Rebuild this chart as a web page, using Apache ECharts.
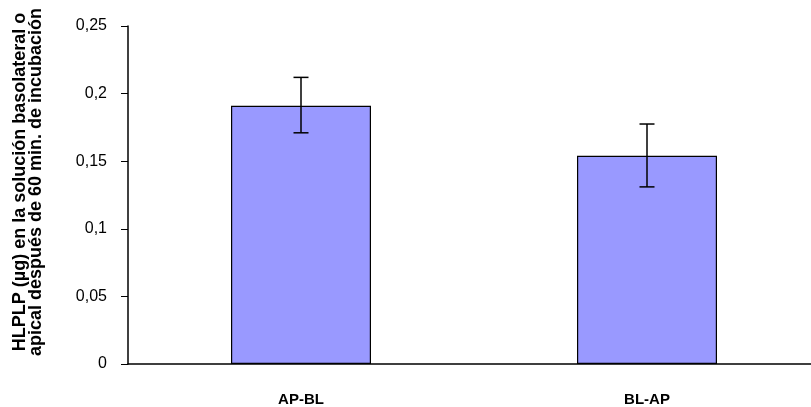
<!DOCTYPE html>
<html><head><meta charset="utf-8">
<script src="https://cdn.jsdelivr.net/npm/echarts@6/dist/echarts.min.js"></script>
<style>html,body{margin:0;padding:0;background:#fff}#c{width:811px;height:407px}</style>
</head><body><div id="c"></div>
<script>
const categories = ['AP-BL', 'BL-AP'];
const means = [0.191, 0.154];
const errLow = [0.171, 0.131];
const errHigh = [0.212, 0.1775];
const yTicks = [0, 0.05, 0.1, 0.15, 0.2, 0.25];

const chart = echarts.init(document.getElementById('c'), null, {renderer: 'canvas'});
const font = 'Liberation Sans, Arial, sans-serif';
chart.setOption({
  animation: false,
  grid: {left: 128, top: 26, height: 338, width: 692, containLabel: false, outerBoundsMode: 'none'},
  xAxis: {
    type: 'category', data: categories,
    axisLine: {lineStyle: {color: '#000', width: 1.5}},
    axisTick: {show: false},
    axisLabel: {color: '#000', fontFamily: font, fontWeight: 'bold', fontSize: 15, margin: 28}
  },
  yAxis: {
    type: 'value', min: 0, max: 0.25, interval: 0.05,
    axisLine: {show: true, lineStyle: {color: '#000', width: 1.5}},
    axisTick: {show: true, length: 7, lineStyle: {color: '#000'}},
    splitLine: {show: false},
    axisLabel: {color: '#000', fontFamily: font, fontSize: 16, margin: 21,
      formatter: v => String(+v.toFixed(2)).replace('.', ',')}
  },
  graphic: [{
    type: 'text', x: 28, y: 182, rotation: Math.PI / 2,
    style: {text: 'HLPLP (µg) en la solución basolateral o\napical después de 60 min. de incubación',
      font: 'bold 18px ' + font, fill: '#000', align: 'center', verticalAlign: 'middle', lineHeight: 16}
  }],
  series: [{
    type: 'bar', data: means, barWidth: 140,
    itemStyle: {color: '#9999FF', borderColor: '#000', borderWidth: 1.2}
  }, {
    type: 'custom',
    data: categories.map((c, i) => [i, errLow[i], errHigh[i]]),
    renderItem: function (params, api) {
      const lo = api.coord([api.value(0), api.value(1)]);
      const hi = api.coord([api.value(0), api.value(2)]);
      const x = lo[0], hw = 7.5;
      const st = {stroke: '#000', lineWidth: 1.5};
      return {type: 'group', children: [
        {type: 'line', shape: {x1: x, y1: lo[1], x2: x, y2: hi[1]}, style: st},
        {type: 'line', shape: {x1: x - hw, y1: lo[1], x2: x + hw, y2: lo[1]}, style: st},
        {type: 'line', shape: {x1: x - hw, y1: hi[1], x2: x + hw, y2: hi[1]}, style: st}
      ]};
    },
    z: 10
  }]
});
</script></body></html>
